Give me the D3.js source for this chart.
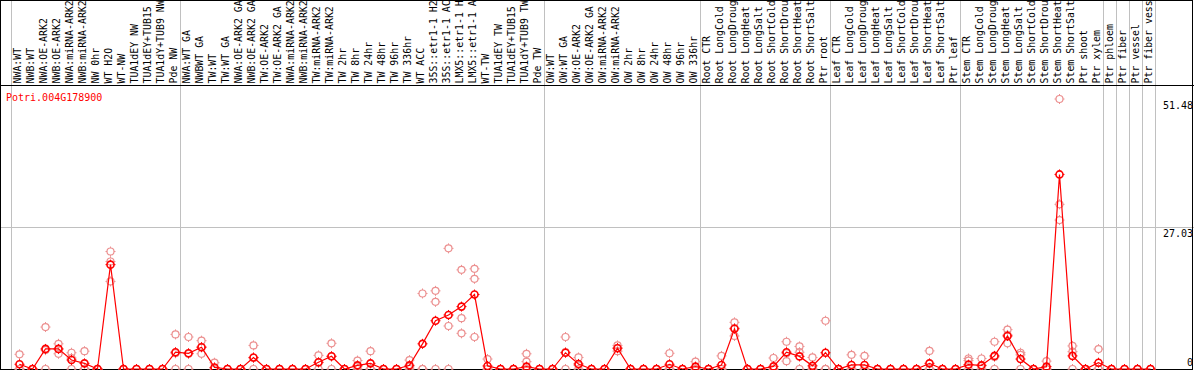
<!DOCTYPE html>
<html>
<head>
<meta charset="utf-8">
<script src="https://cdn.jsdelivr.net/npm/d3@7"></script>
<style>
body{margin:0;background:#fff;}
svg{display:block;font-family:"DejaVu Sans Mono",monospace;font-size:10px;}
</style>
</head>
<body>
<script>
// sample names (columns of the chart)
var labels = ["NWA:WT","NWB:WT","NWA:OE-ARK2","NWB:OE-ARK2","NWA:miRNA-ARK2","NWB:miRNA-ARK2","NW 0hr","WT H2O","WT-NW","TUA1dEY NW","TUA1dEY+TUB15 NW","TUA1dY+TUB9 NW","Pde NW",
  "NWA:WT GA","NWBWT GA","TW:WT","TW:WT GA","NWA:OE-ARK2 GA","NWB:OE-ARK2 GA","TW:OE-ARK2","TW:OE-ARK2 GA","NWA:miRNA-ARK2","NWB:miRNA-ARK2","TW:miRNA-ARK2","TW:miRNA-ARK2",
  "TW 2hr","TW 8hr","TW 24hr","TW 48hr","TW 96hr","TW 336hr","WT ACC","35S::etr1-1 H2O","35S::etr1-1 ACC","LMX5::etr1-1 H2O","LMX5::etr1-1 ACC","WT-TW","TUA1dEY TW","TUA1dEY+TUB15 TW","TUA1dY+TUB9 TW","Pde TW",
  "OW:WT","OW:WT GA","OW:OE-ARK2","OW:OE-ARK2 GA","OW:miRNA-ARK2","OW:miRNA-ARK2","OW 2hr","OW 8hr","OW 24hr","OW 48hr","OW 96hr","OW 336hr",
  "Root CTR","Root LongCold","Root LongDrought","Root LongHeat","Root LongSalt","Root ShortCold","Root ShortDrought","Root ShortHeat","Root ShortSalt","Ptr root",
  "Leaf CTR","Leaf LongCold","Leaf LongDrought","Leaf LongHeat","Leaf LongSalt","Leaf ShortCold","Leaf ShortDrought","Leaf ShortHeat","Leaf ShortSalt","Ptr leaf",
  "Stem CTR","Stem LongCold","Stem LongDrought","Stem LongHeat","Stem LongSalt","Stem ShortCold","Stem ShortDrought","Stem ShortHeat","Stem ShortSalt","Ptr shoot",
  "Ptr xylem","Ptr phloem","Ptr fiber","Ptr vessel","Ptr fiber vessel"];

// mean expression per sample
var means = [0.9,0,3.83,3.83,1.72,1.08,0,19.9,0,0,0,0,3.2,
  3.0,4.15,0.3,0,0,2.2,0,0,0,0,1.28,2.43,
  0,0.7,1.08,0,0,0.7,4.8,9.2,10.3,11.9,14.2,0.58,0,0,0.45,0,
  0,3.1,0.96,0,0,3.96,0,0,0,0.9,0,0.45,
  0,0.77,7.67,0,0,0.5,3.2,2.4,0.6,3.1,
  0,0.77,0.77,0,0,0,0,1.08,0,0,
  0.83,0.7,2.5,6.3,1.9,0,0.45,37.1,2.5,0,
  1.2,0,0,0,0];

// replicate values
var rep1 = [2.8,0,8.0,4.8,3.1,3.4,0,22.4,0,0,0,0,6.6,
  6.1,5.4,1.2,0,0,4.5,0,0,0,0,2.6,4.9,
  0,1.6,3.4,0,0,1.7,14.4,14.9,23.0,18.9,19.1,1.9,0,0,2.9,0,
  0,6.1,2.2,0,0,4.5,0,0,0,3.0,0,1.4,
  0,2.5,8.9,0,0,2.1,5.2,4.3,2.2,9.2,
  0,2.7,2.5,0,0,0,0,3.45,0,0,
  2.0,2.0,5.2,7.5,3.1,0,1.5,51.48,4.4,0,
  3.8,0,0,0,0];
var rep2 = [0,0,3.6,3.8,2.1,0,0,20.5,0,0,0,0,3.0,
  2.9,4.2,0,0,0,2.1,0,0,0,0,1.2,2.4,
  0,0.5,0,0,0,0.4,0,12.8,8.2,9.7,17.2,0,0,0,1.4,0,
  0,3.2,0.7,0,0,4.0,0,0,0,0,0,0,
  0,0,7.8,0,0,0,3.0,3.2,0,0,
  0,0,0,0,0,0,0,0,0,0,
  1.6,0.6,2.3,6.5,2.7,0,0,31.4,3.3,0,
  0,0,0,0,0];
var rep3 = [0,0,0,2.9,0,0,0,16.7,0,0,0,0,0,
  0,2.9,0,0,0,0,0,0,0,0,0,0,
  0,0,0,0,0,0,0,0,0,6.8,6.1,0,0,0,0,0,
  0,0,0,0,0,3.4,0,0,0,0,0,0,
  0,0,6.3,0,0,0,1.5,0,0,0,
  0,0,0,0,0,0,0,0,0,0,
  0,0,0,4.9,0,0,0,28.4,0,0,
  0,0,0,0,0];

// index of the first sample of each group (last value = end)
var groupBreaks = [0,13,41,53,63,73,84,85,86,87,88];
var yTicks = [51.48,27.03,0];
var gene = "Potri.004G178900";

var width = 1194, height = 370;
var headBottom = 85, plotBottom = 369;
var maxChars = 14; // the header only has room for 14 characters

var svg = d3.select("body").append("svg").attr("width",width).attr("height",height);

var x = d3.scaleBand().domain(d3.range(labels.length)).range([13,13+13*labels.length]);
var y = d3.scaleLinear().domain([0,yTicks[0]]).range([plotBottom,99]);
function cx(i){ return x(i)+x.bandwidth()/2; }

// grid lines
svg.selectAll("line.vgrid").data(groupBreaks).enter().append("line")
  .attr("class","vgrid")
  .attr("x1",function(k){ return Math.floor(13+x.step()*k-1.5)+0.5; })
  .attr("x2",function(k){ return Math.floor(13+x.step()*k-1.5)+0.5; })
  .attr("y1",0).attr("y2",plotBottom)
  .attr("stroke","#c0c0c0");
svg.selectAll("line.hgrid").data([yTicks[1]]).enter().append("line")
  .attr("class","hgrid")
  .attr("x1",0).attr("x2",width)
  .attr("y1",function(d){ return Math.round(y(d))+0.5; })
  .attr("y2",function(d){ return Math.round(y(d))+0.5; })
  .attr("stroke","#c0c0c0");

// sample labels, shortened like in the header
svg.append("g")
  .selectAll("text").data(labels).enter().append("text")
  .attr("transform",function(d,i){ return "translate("+(cx(i)+1.5)+",83.5) rotate(-90)"; })
  .style("font-size","9.9px")
  .attr("fill","#000")
  .text(function(d){ return d.slice(0,maxChars); });

// frame
svg.append("rect").attr("x",0.5).attr("y",0.5).attr("width",width-2).attr("height",plotBottom)
  .attr("fill","none").attr("stroke","#000");
svg.append("line").attr("x1",0).attr("x2",width).attr("y1",headBottom+0.5).attr("y2",headBottom+0.5).attr("stroke","#000");

// y labels
svg.selectAll("text.ylab").data(yTicks).enter().append("text")
  .attr("class","ylab")
  .attr("x",width-1).attr("text-anchor","end")
  .attr("y",function(d){ return d==0 ? y(d)-3 : y(d)+10; })
  .text(function(d){ return d; });

svg.append("text").attr("x",6).attr("y",101).attr("fill","#ff0000").text(gene);

// marker: circle with small ticks
function marker(g,color,sw){
  g.append("circle").attr("r",3.5).attr("fill","none").attr("stroke",color).attr("stroke-width",sw);
  g.append("path").attr("d","M-5,0h1.5M3.5,0h1.5M0,-5v1.5M0,3.5v1.5").attr("stroke",color).attr("stroke-width",1);
}

// replicates
var reps = [];
labels.forEach(function(l,i){ [rep1[i],rep2[i],rep3[i]].forEach(function(v){ reps.push({i:i,v:v}); }); });
svg.append("g").selectAll("g").data(reps).enter().append("g")
  .attr("transform",function(d){ return "translate("+cx(d.i)+","+y(d.v)+")"; })
  .each(function(){ marker(d3.select(this),"#ec9090",1.2); });

// mean line
var line = d3.line().x(function(d,i){ return cx(i); }).y(function(d){ return y(d); });
svg.append("path").attr("d",line(means)).attr("fill","none").attr("stroke","#ff0000").attr("stroke-width",1.2);

svg.append("g").selectAll("g").data(means).enter().append("g")
  .attr("transform",function(d,i){ return "translate("+cx(i)+","+y(d)+")"; })
  .each(function(){ marker(d3.select(this),"#ff0000",1.6); });
</script>
</body>
</html>
